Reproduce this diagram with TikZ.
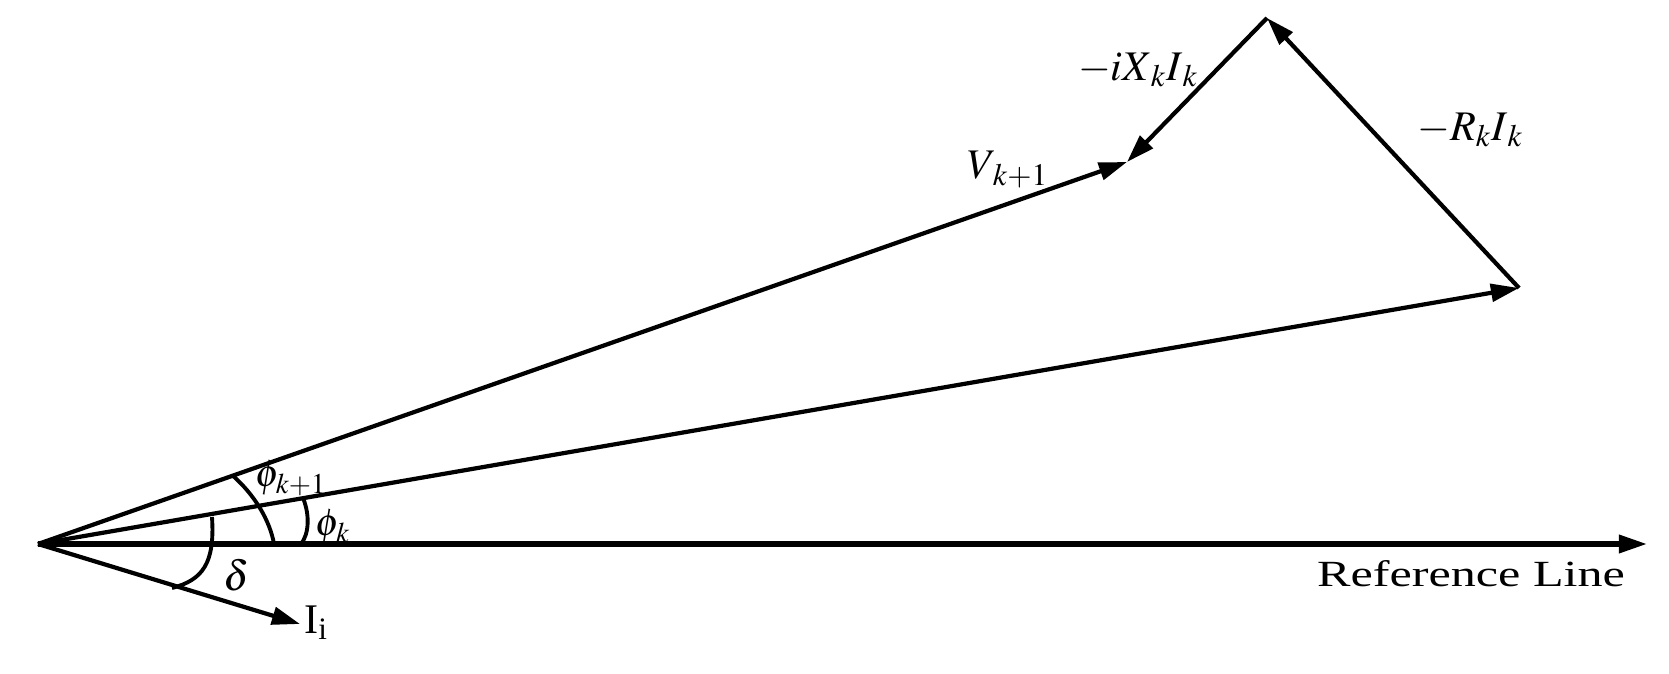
\documentclass[tikz,border=0pt]{standalone}
\usepackage{mathptmx}
\usepackage{fontspec}
\setmainfont{Liberation Serif}
\usepackage{graphicx}
\usetikzlibrary{arrows.meta}
\tikzset{
	vec/.style={line width=2.4pt, -{Triangle[length=16pt, width=10pt]}},
	angarc/.style={line width=2.2pt},
	lbl/.style={inner sep=0pt, font=\fontsize{24}{28}\selectfont},
	anglbl/.style={inner sep=0pt, font=\fontsize{22}{26}\selectfont}
}
\def\wide#1{\scalebox{1.36}[1]{#1}}

\begin{document}
\begin{tikzpicture}[x=0.02cm, y=0.02cm]
			%%%%% START %%%%%
			
			\useasboundingbox (0, 0) rectangle (1669, 673);
			
			\coordinate (orig) at (38, 129);
			\coordinate (refend) at (1647, 129);
			\coordinate (vnext) at (1127, 511);
			\coordinate (apex) at (1267, 655);
			\coordinate (vk) at (1519, 385);
			\coordinate (curr) at (300, 49);
			
			\draw[vec, line width=2.9pt] (orig) -- (refend);
			\draw[vec] (orig) -- (vnext);
			\draw[vec] (orig) -- (vk);
			\draw[vec] (orig) -- (curr);
			\draw[vec] (apex) -- (vnext);
			\draw[vec] (vk) -- (apex);
			
			\draw[angarc] (212, 156) .. controls (215, 110) and (203, 93) .. (172, 85);
			\draw[angarc] (232, 198) .. controls (255, 178) and (270, 152) .. (274, 129);
			\draw[angarc] (303, 175) .. controls (310, 158) and (309, 139) .. (301, 129);
			
			\node[lbl] (lblV) at (1008, 503) {$V_{\,k+1}$};
			\node[lbl] (lblX) at (1138, 603) {$-iX_{\,k}I_{\,k}$};
			\node[lbl] (lblR) at (1470, 543) {$-R_kI_{\,k}$};
			\node[anglbl] (lblPhiN) at (291, 195) {$\phi_{k+1}$};
			\node[anglbl] (lblPhi) at (333, 146) {$\phi_k$};
			\node[lbl] (lblDelta) at (237, 98) {$\delta$};
			\node[lbl] (lblI) at (316, 50) {I\textsubscript{i}};
			\node[lbl, font=\fontsize{21}{25}\selectfont] (lblRef) at (1471, 99) {\wide{Reference Line}};
			
			%%%%% END %%%%%
		\end{tikzpicture}
\end{document}
